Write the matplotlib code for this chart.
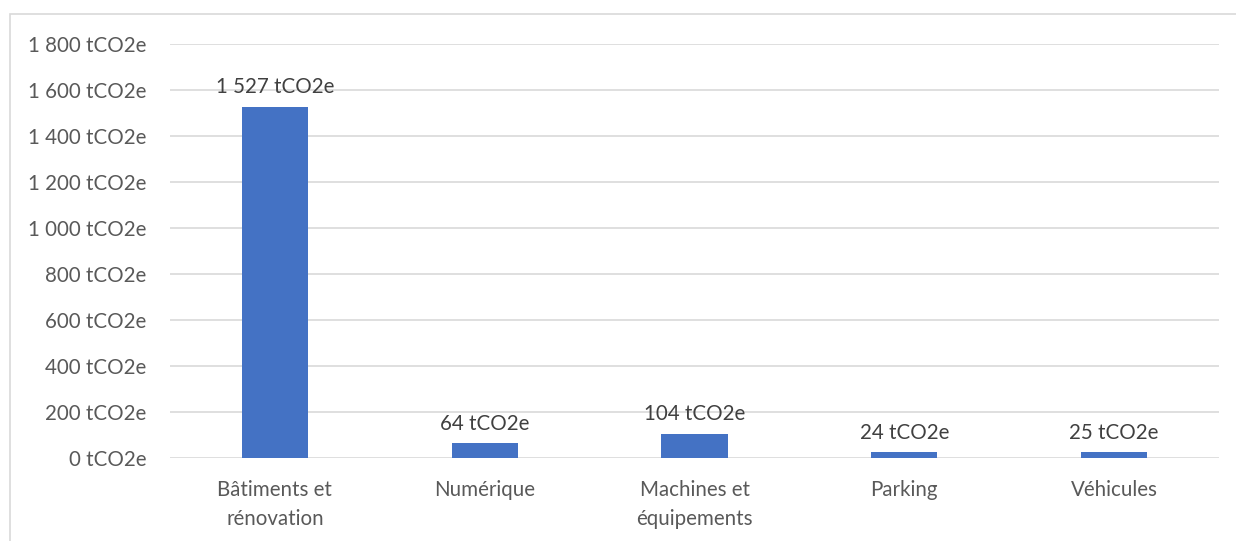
import matplotlib
matplotlib.use("Agg")
import matplotlib.pyplot as plt
from matplotlib.patches import Rectangle
from matplotlib.ticker import FuncFormatter, MultipleLocator

categories = ["Bâtiments et\nrénovation", "Numérique", "Machines et\néquipements", "Parking", "Véhicules"]
values = [1527, 64, 104, 24, 25]

plt.rcParams['font.family'] = ['Lato', 'DejaVu Sans']

W, H = 1236, 541
fig = plt.figure(figsize=(W/100, H/100), dpi=100)
ax = fig.add_axes([170/W, 1-458/H, (1219-170)/W, (458-44)/H])

fig.patches.append(Rectangle((10/W, -0.1), 1.2, 1-14/H+0.1, transform=fig.transFigure,
                             fill=False, edgecolor='#D9D9D9', linewidth=1.2))

x = range(len(categories))
ax.bar(x, values, width=0.315, color='#4472C4', zorder=3)
ax.set_xlim(-0.5, len(categories)-0.5)
ax.set_ylim(0, 1800)
ax.yaxis.set_major_locator(MultipleLocator(200))

def fmt(v, pos=None):
    v = int(round(v))
    s = f"{v:,}".replace(",", " ")
    return f"{s} tCO2e"

ax.yaxis.set_major_formatter(FuncFormatter(fmt))
ax.grid(axis='y', color='#D9D9D9', linewidth=1.2, zorder=0)
for s in ax.spines.values():
    s.set_visible(False)
ax.tick_params(axis='both', length=0, labelsize=14.8, colors='#595959')
ax.tick_params(axis='y', pad=17)
ax.tick_params(axis='x', pad=16)
ax.set_xticks(list(x))
ax.set_xticklabels(categories, linespacing=1.55)

for xi, v in zip(x, values):
    ax.annotate(fmt(v), (xi, v), xytext=(0, 7), textcoords='offset points',
                ha='center', va='bottom', fontsize=14.8, color='#404040')

fig.savefig("out.png", dpi=100)
